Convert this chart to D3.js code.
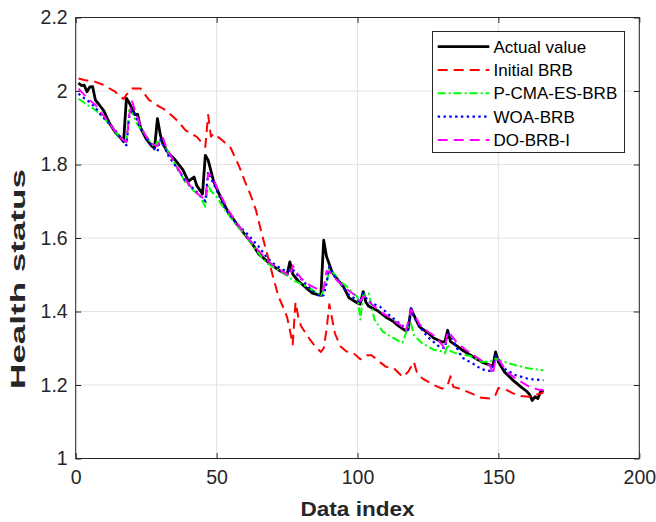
<!DOCTYPE html>
<html>
<head>
<meta charset="utf-8">
<script src="https://cdn.jsdelivr.net/npm/d3@7/dist/d3.min.js"></script>
<style>
  html, body { margin: 0; padding: 0; background: #fff; }
  svg { display: block; font-family: "Liberation Sans", Arial, Helvetica, sans-serif; }
</style>
</head>
<body>
<svg id="chart" width="656" height="522"></svg>
<script>
// Health status of the monitored system versus data index, for the
// actual values and four belief-rule-base models.

const xTicks = [0, 50, 100, 150, 200];
const yTicks = [1, 1.2, 1.4, 1.6, 1.8, 2, 2.2];
const yTickLabels = ["1", "1.2", "1.4", "1.6", "1.8", "2", "2.2"];

const seriesNames = ["Actual value", "Initial BRB", "P-CMA-ES-BRB", "WOA-BRB", "DO-BRB-I"];

const actualIdx = [1,2,3,4,5,6,7,8,10,12,14,16,17,18,19,20,21,22,23,25,27,28,29,30,31,33,35,38,40,41,42,43,45,46,47,49,51,54,57,61,63,65,69,72,75,76,77,79,82,84,87,88,89,91,93,95,97,100,101,102,103,104,107,110,112,113,114,117,118,119,120,122,125,127,130,131,132,133,135,137,141,144,147,148,149,150,152,155,158,160,161,162,163,164,165,166];
const actualVal = [2.022,2.015,2.016,1.998,2.011,2.012,1.975,1.966,1.946,1.912,1.888,1.872,1.862,1.980,1.968,1.952,1.936,1.936,1.900,1.870,1.850,1.845,1.925,1.882,1.855,1.830,1.815,1.786,1.754,1.760,1.766,1.742,1.720,1.825,1.812,1.753,1.718,1.672,1.640,1.600,1.580,1.556,1.530,1.513,1.500,1.535,1.502,1.483,1.463,1.450,1.444,1.594,1.550,1.507,1.486,1.468,1.437,1.423,1.420,1.454,1.425,1.414,1.403,1.385,1.376,1.371,1.364,1.348,1.352,1.408,1.390,1.358,1.342,1.328,1.317,1.318,1.349,1.318,1.308,1.296,1.277,1.263,1.254,1.250,1.290,1.263,1.237,1.214,1.195,1.183,1.175,1.158,1.168,1.163,1.182,1.186];

const initialIdx = [1,3,7,10,14,17,18,20,23,26,30,32,36,39,43,46,47,48,49,52,55,58,60,62,64,66,68,70,72,74,75,76,77,78,79,80,83,85,87,88,89,90,91,92,94,96,99,101,103,105,107,110,113,116,118,120,121,123,127,130,132,133,134,137,141,144,147,149,150,153,155,158,161,163,165,166];
const initialVal = [2.034,2.030,2.025,2.016,1.998,1.978,1.990,2.007,2.007,1.976,1.956,1.948,1.920,1.893,1.875,1.848,1.935,1.876,1.884,1.866,1.845,1.795,1.755,1.718,1.675,1.612,1.555,1.495,1.440,1.405,1.385,1.350,1.310,1.425,1.385,1.360,1.325,1.305,1.290,1.300,1.350,1.420,1.380,1.340,1.305,1.292,1.284,1.270,1.281,1.281,1.268,1.250,1.245,1.222,1.236,1.263,1.236,1.218,1.200,1.190,1.200,1.224,1.195,1.188,1.175,1.165,1.163,1.173,1.192,1.186,1.178,1.170,1.168,1.173,1.177,1.180];

const pcmaIdx = [1,3,7,9,12,14,16,18,19,20,22,25,27,28,29,30,32,35,39,41,44,46,47,48,50,53,57,60,63,66,68,71,75,77,80,83,86,87,88,89,90,92,94,96,98,100,101,102,104,106,109,111,115,116,118,119,120,123,127,129,131,132,133,135,140,144,147,149,152,156,161,166];
const pcmaVal = [1.979,1.968,1.948,1.934,1.910,1.889,1.872,1.860,1.948,1.940,1.908,1.878,1.855,1.848,1.862,1.862,1.845,1.805,1.750,1.735,1.714,1.685,1.744,1.728,1.712,1.676,1.635,1.610,1.578,1.548,1.530,1.517,1.499,1.485,1.475,1.463,1.449,1.440,1.460,1.476,1.517,1.499,1.480,1.470,1.452,1.440,1.378,1.445,1.450,1.378,1.345,1.336,1.318,1.316,1.358,1.367,1.336,1.313,1.296,1.294,1.286,1.310,1.292,1.286,1.279,1.263,1.263,1.272,1.263,1.254,1.245,1.240];

const woaIdx = [1,2,4,7,9,12,15,17,18,19,20,21,23,25,27,28,29,30,31,33,36,39,42,44,46,47,48,50,53,57,61,65,68,71,75,77,78,82,85,87,88,89,90,92,95,97,100,101,102,104,108,111,115,117,118,119,120,123,125,129,131,132,133,137,141,144,147,148,149,150,152,156,161,166];
const woaVal = [1.993,1.985,1.976,1.955,1.934,1.910,1.884,1.862,1.852,1.930,1.948,1.935,1.898,1.872,1.853,1.840,1.835,1.868,1.855,1.822,1.790,1.755,1.732,1.718,1.700,1.780,1.762,1.730,1.680,1.640,1.610,1.576,1.545,1.525,1.508,1.515,1.505,1.472,1.449,1.440,1.445,1.476,1.522,1.494,1.467,1.445,1.431,1.425,1.449,1.426,1.413,1.392,1.367,1.354,1.350,1.408,1.385,1.349,1.330,1.304,1.300,1.340,1.335,1.275,1.258,1.243,1.238,1.245,1.280,1.270,1.245,1.227,1.216,1.213];

const doIdx = [1,3,5,7,9,12,14,16,17,18,19,20,21,23,25,27,28,29,30,31,32,35,38,41,43,45,46,47,48,49,51,54,57,60,63,66,69,72,75,76,77,78,80,83,86,87,88,89,90,93,96,99,101,102,103,105,108,111,114,116,117,118,119,120,122,125,127,130,131,132,133,135,138,142,146,147,148,149,150,153,156,161,164,166];
const doVal = [2.006,1.990,1.975,1.962,1.942,1.912,1.890,1.872,1.866,1.862,1.935,1.972,1.948,1.905,1.876,1.858,1.852,1.850,1.870,1.872,1.850,1.805,1.768,1.738,1.722,1.710,1.705,1.775,1.770,1.758,1.722,1.678,1.642,1.612,1.582,1.556,1.532,1.515,1.502,1.495,1.525,1.510,1.490,1.472,1.460,1.455,1.462,1.510,1.508,1.482,1.462,1.445,1.428,1.440,1.440,1.420,1.400,1.386,1.370,1.358,1.345,1.372,1.405,1.395,1.365,1.345,1.335,1.310,1.298,1.345,1.338,1.318,1.298,1.277,1.256,1.254,1.228,1.272,1.270,1.236,1.218,1.195,1.188,1.186];

const seriesIdx = [actualIdx, initialIdx, pcmaIdx, woaIdx, doIdx];
const seriesVal = [actualVal, initialVal, pcmaVal, woaVal, doVal];

// Line appearance for each series
const styles = [
  { color: "#000000", width: 2.8, dash: null },
  { color: "#ff0000", width: 2.0, dash: "10,6" },
  { color: "#00ff00", width: 2.0, dash: "8,3,2,3" },
  { color: "#0000ff", width: 2.2, dash: "2.4,3.4" },
  { color: "#ff00ff", width: 2.0, dash: "10,6" }
];

const svg = d3.select("#chart");
const plot = { left: 75.7, right: 639.3, top: 17.5, bottom: 458.5 };
const axisColor = "#262626";

const x = d3.scaleLinear().domain([0, 200]).range([plot.left, plot.right]);
const y = d3.scaleLinear().domain([1, 2.2]).range([plot.bottom, plot.top]);

// Grid
const grid = svg.append("g");
grid.selectAll("line.gx").data(xTicks).enter().append("line")
  .attr("x1", d => x(d)).attr("x2", d => x(d))
  .attr("y1", plot.top).attr("y2", plot.bottom)
  .attr("stroke", "#e3e3e3").attr("stroke-width", 1);
grid.selectAll("line.gy").data(yTicks).enter().append("line")
  .attr("x1", plot.left).attr("x2", plot.right)
  .attr("y1", d => y(d)).attr("y2", d => y(d))
  .attr("stroke", "#e3e3e3").attr("stroke-width", 1);

// Axes with inward ticks on all four sides
const tickLen = 5.5;
const fmt = d => yTickLabels[yTicks.indexOf(d)];
const axB = d3.axisBottom(x).tickValues(xTicks).tickSizeInner(-tickLen).tickSizeOuter(0).tickPadding(12).tickFormat(d3.format("d"));
const axT = d3.axisTop(x).tickValues(xTicks).tickSizeInner(-tickLen).tickSizeOuter(0).tickFormat("");
const axL = d3.axisLeft(y).tickValues(yTicks).tickSizeInner(-tickLen).tickSizeOuter(0).tickPadding(8).tickFormat(fmt);
const axR = d3.axisRight(y).tickValues(yTicks).tickSizeInner(-tickLen).tickSizeOuter(0).tickFormat("");

function styleAxis(g) {
  g.select(".domain").remove();
  g.selectAll(".tick line").attr("stroke", axisColor).attr("stroke-width", 1);
  g.selectAll(".tick text").attr("fill", axisColor)
    .style("font-size", "19.5px")
    .style("font-family", "'Liberation Sans', Arial, Helvetica, sans-serif");
}

svg.append("g").attr("transform", `translate(0,${plot.bottom})`).call(axB).call(styleAxis);
svg.append("g").attr("transform", `translate(0,${plot.top})`).call(axT).call(styleAxis);
svg.append("g").attr("transform", `translate(${plot.left},0)`).call(axL).call(styleAxis);
svg.append("g").attr("transform", `translate(${plot.right},0)`).call(axR).call(styleAxis);

// Series lines
svg.append("clipPath").attr("id", "plotClip").append("rect")
  .attr("x", plot.left).attr("y", plot.top)
  .attr("width", plot.right - plot.left).attr("height", plot.bottom - plot.top);

const line = d3.line().x(d => x(d[0])).y(d => y(d[1]));
const lines = svg.append("g").attr("clip-path", "url(#plotClip)");
seriesNames.forEach((name, i) => {
  const pts = seriesIdx[i].map((v, k) => [v, seriesVal[i][k]]);
  const s = styles[i];
  lines.append("path")
    .datum(pts)
    .attr("d", line)
    .attr("fill", "none")
    .attr("stroke", s.color)
    .attr("stroke-width", s.width)
    .attr("stroke-linejoin", "round")
    .attr("stroke-dasharray", s.dash);
});

// Box around the plot area
svg.append("rect")
  .attr("x", plot.left).attr("y", plot.top)
  .attr("width", plot.right - plot.left).attr("height", plot.bottom - plot.top)
  .attr("fill", "none").attr("stroke", axisColor).attr("stroke-width", 1);

// Axis labels
svg.append("text")
  .attr("transform", `translate(${(plot.left + plot.right) / 2},516) scale(1.1,1)`)
  .attr("text-anchor", "middle")
  .attr("fill", axisColor)
  .style("font-size", "20.5px").style("font-weight", "bold")
  .text("Data index");

svg.append("text")
  .attr("transform", "translate(25,279) rotate(-90) scale(1.75,1)")
  .attr("text-anchor", "middle")
  .attr("fill", axisColor)
  .style("font-size", "20px").style("font-weight", "bold")
  .text("Health status");

// Legend
const leg = { x: 432.5, y: 31.5, w: 192, h: 121, row0: 46.7, rowStep: 23.3 };
const lg = svg.append("g");
lg.append("rect")
  .attr("x", leg.x).attr("y", leg.y).attr("width", leg.w).attr("height", leg.h)
  .attr("fill", "#fff").attr("stroke", axisColor).attr("stroke-width", 1);
seriesNames.forEach((name, i) => {
  const cy = leg.row0 + i * leg.rowStep;
  const s = styles[i];
  lg.append("line")
    .attr("x1", 437.7).attr("x2", 489.3).attr("y1", cy).attr("y2", cy)
    .attr("stroke", s.color).attr("stroke-width", s.width)
    .attr("stroke-dasharray", s.dash);
  lg.append("text")
    .attr("x", 493.5).attr("y", cy).attr("dy", "0.36em")
    .attr("fill", "#000")
    .style("font-size", "17px")
    .text(name);
});
</script>
</body>
</html>
